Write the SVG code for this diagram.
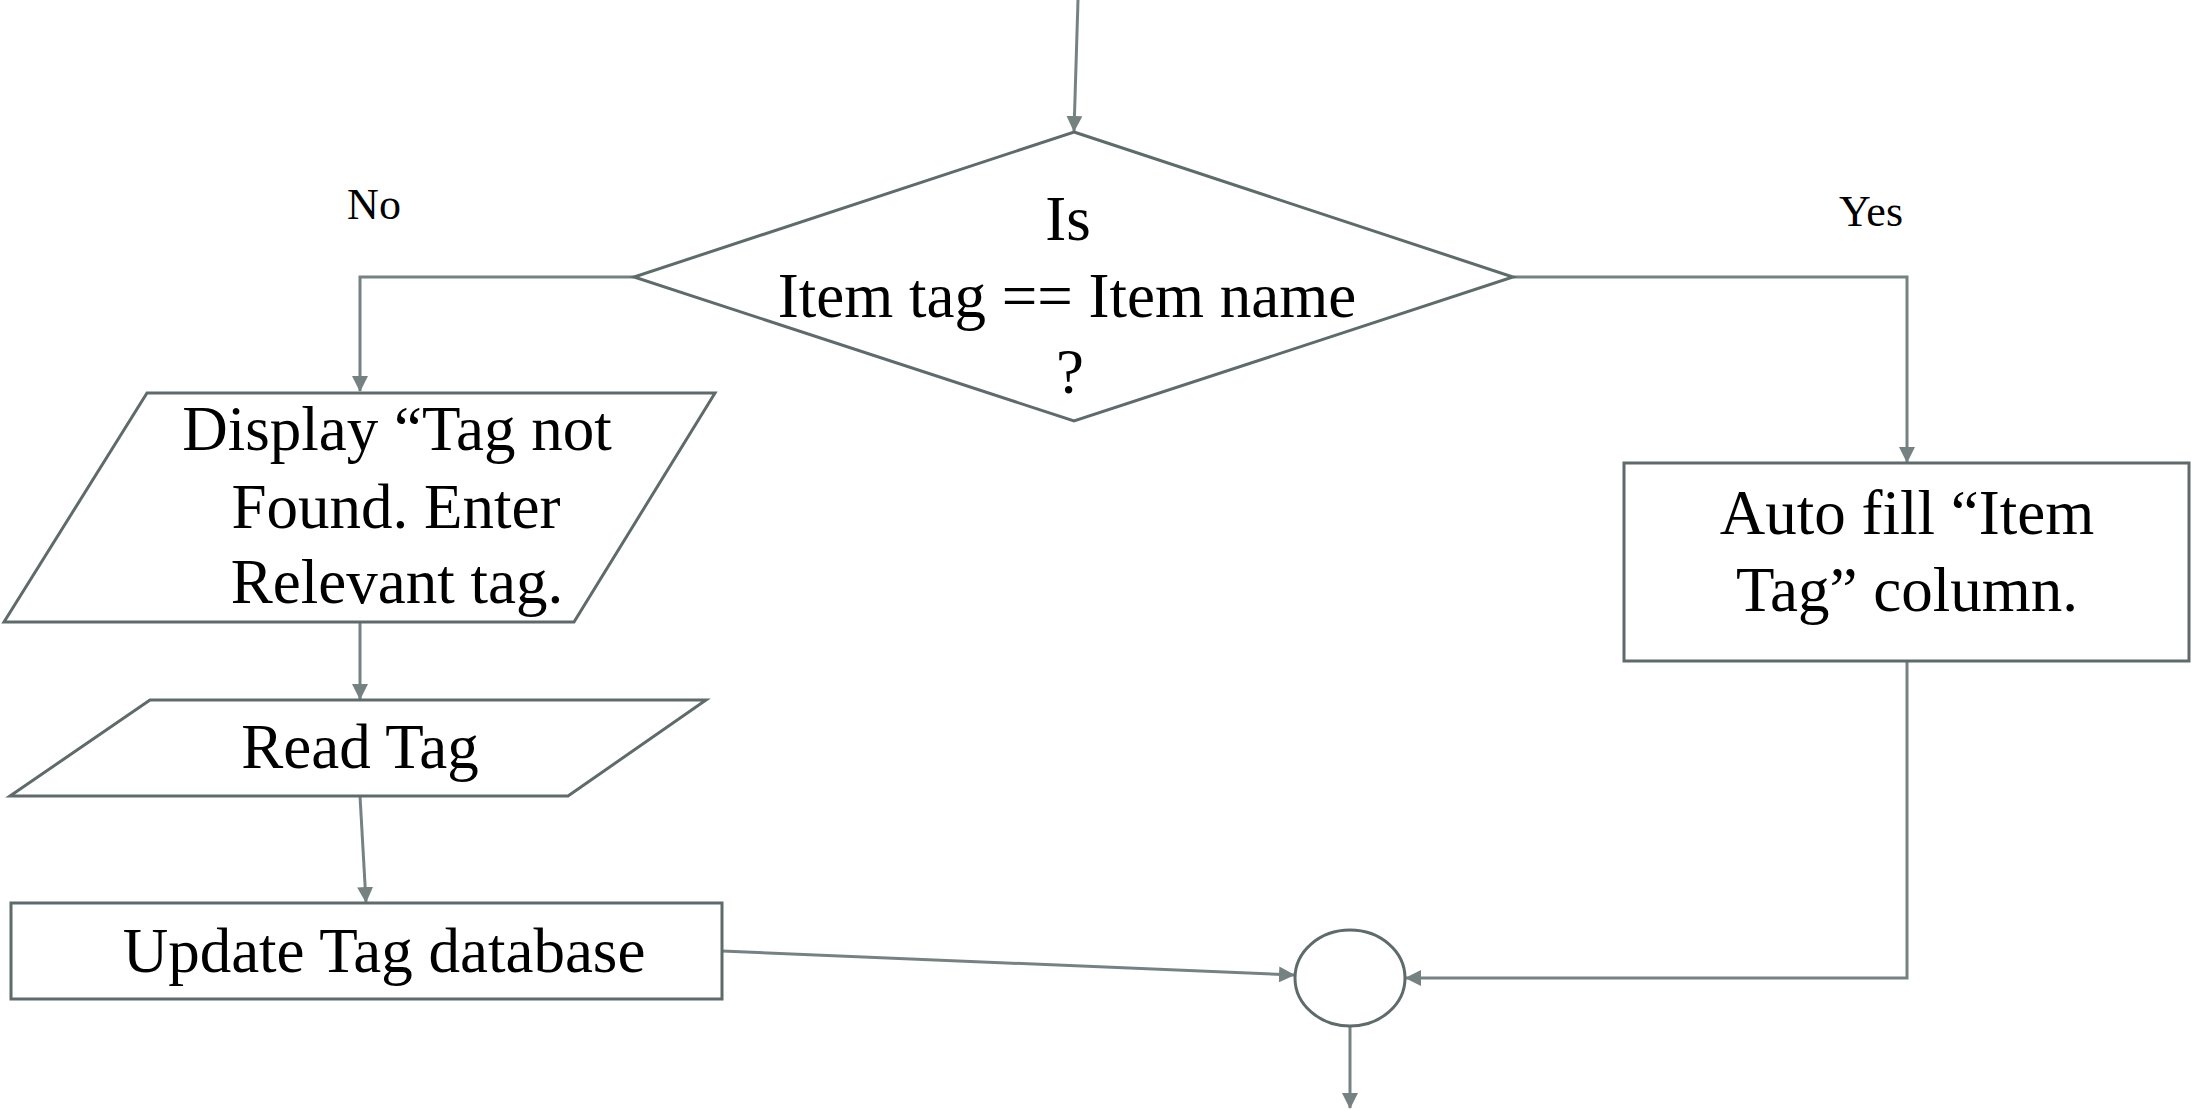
<svg xmlns="http://www.w3.org/2000/svg" width="2191" height="1110" viewBox="0 0 2191 1110">
  <style>
    .shape { fill: #ffffff; stroke: #5f6a6a; stroke-width: 3; }
    .conn { fill: none; stroke: #768282; stroke-width: 3; }
    .txt { font-family: "Liberation Serif", "Times New Roman", serif; font-size: 63px; fill: #000000; text-anchor: middle; }
    .lbl { font-family: "Liberation Serif", "Times New Roman", serif; font-size: 44px; fill: #000000; text-anchor: middle; }
  </style>
  <defs>
    <marker id="arrow" viewBox="0 0 16 16" refX="15" refY="8" markerWidth="16" markerHeight="16" markerUnits="userSpaceOnUse" orient="auto">
      <path d="M0,0 L16,8 L0,16 Z" fill="#768282"/>
    </marker>
  </defs>
  <rect width="2191" height="1110" fill="#ffffff"/>

  <g id="connectors">
    <line class="conn" x1="1078" y1="0" x2="1074" y2="131" marker-end="url(#arrow)"/>
    <polyline class="conn" points="634,277 360,277 360,391" marker-end="url(#arrow)"/>
    <polyline class="conn" points="1513,277 1907,277 1907,462" marker-end="url(#arrow)"/>
    <line class="conn" x1="360" y1="622" x2="360" y2="699" marker-end="url(#arrow)"/>
    <line class="conn" x1="360" y1="796" x2="366" y2="902" marker-end="url(#arrow)"/>
    <line class="conn" x1="722" y1="951" x2="1294" y2="975" marker-end="url(#arrow)"/>
    <polyline class="conn" points="1907,661 1907,978 1406,978" marker-end="url(#arrow)"/>
    <line class="conn" x1="1350" y1="1026" x2="1350" y2="1108" marker-end="url(#arrow)"/>
  </g>

  <g id="label-no">
    <text class="lbl" x="374" y="219">No</text>
  </g>
  <g id="label-yes">
    <text class="lbl" x="1871" y="226">Yes</text>
  </g>

  <g id="decision">
    <polygon class="shape" points="1074,132 1513,277 1074,421 634,277"/>
    <text class="txt" x="1068" y="240">Is</text>
    <text class="txt" x="1067" y="317">Item tag == Item name</text>
    <text class="txt" x="1070" y="393">?</text>
  </g>

  <g id="display-not-found">
    <polygon class="shape" points="147,393 715,393 574,622 4,622"/>
    <text class="txt" x="397" y="450">Display “Tag not</text>
    <text class="txt" x="396" y="528">Found. Enter</text>
    <text class="txt" x="397" y="603">Relevant tag.</text>
  </g>

  <g id="read-tag">
    <polygon class="shape" points="150,700 706,700 568,796 10,796"/>
    <text class="txt" x="360" y="768">Read Tag</text>
  </g>

  <g id="update-db">
    <rect class="shape" x="11" y="903" width="711" height="96"/>
    <text class="txt" x="384" y="972">Update Tag database</text>
  </g>

  <g id="auto-fill">
    <rect class="shape" x="1624" y="463" width="565" height="198"/>
    <text class="txt" x="1907" y="534">Auto fill “Item</text>
    <text class="txt" x="1907" y="611">Tag” column.</text>
  </g>

  <g id="join">
    <ellipse class="shape" cx="1350" cy="978" rx="55" ry="48"/>
  </g>
</svg>
